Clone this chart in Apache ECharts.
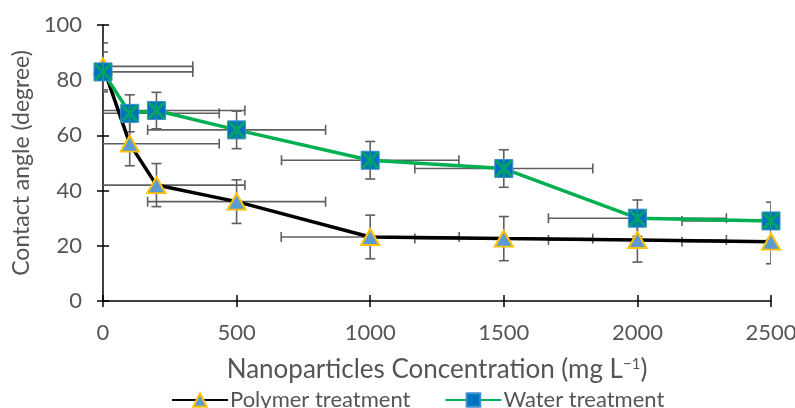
<!DOCTYPE html>
<html><head><meta charset="utf-8">
<script src="https://cdn.jsdelivr.net/npm/echarts@6/dist/echarts.min.js"></script>
<style>html,body{margin:0;padding:0;background:#fff}#c{width:795px;height:408px}</style>
</head><body><div id="c"></div>
<script>
// ---- data ----
const concentrations = [0, 100, 200, 500, 1000, 1500, 2000, 2500];
const polymerAngle = [85, 57, 42, 36, 23.2, 22.6, 22.1, 21.5];
const polymerYErr  = [8.5, 8, 7.8, 7.9, 7.9, 8, 8, 8];
const polymerXErr  = [336, 335, 331, 333, 333, 333, 333, 333];
const waterAngle   = [83, 68, 69, 62, 51, 48, 30, 29];
const waterYErr    = [7.2, 6.7, 6.6, 6.8, 6.8, 6.8, 6.6, 6.8];
const waterXErr    = [336, 335, 331, 333, 332, 333, 333, 333];
const xTicks = [0, 500, 1000, 1500, 2000, 2500];
const yTicks = [0, 20, 40, 60, 80, 100];
const seriesNames = ['Polymer treatment', 'Water treatment'];

const FONT = 'Lato';
const GREY = '#555555';

function pairs(xs, ys) { return xs.map((x, i) => [x, ys[i]]); }
function errData(xs, ys, ex, ey) { return xs.map((x, i) => [x, ys[i], ex[i], ey[i]]); }

function errRender(params, api) {
  const x = api.value(0), y = api.value(1), ex = api.value(2), ey = api.value(3);
  const cs = params.coordSys;
  const L = cs.x, R = cs.x + cs.width, T = cs.y, B = cs.y + cs.height;
  const c = api.coord([x, y]);
  const xl = api.coord([x - ex, y])[0], xr = api.coord([x + ex, y])[0];
  const yt = api.coord([x, y + ey])[1], yb = api.coord([x, y - ey])[1];
  const cap = 5;
  const st = { stroke: '#5f5f5f', lineWidth: 1.6 };
  const ch = [];
  function seg(x1, y1, x2, y2) { ch.push({ type: 'line', shape: { x1, y1, x2, y2 }, style: st }); }
  seg(Math.max(xl, L), c[1], Math.min(xr, R), c[1]);
  if (xl >= L) seg(xl, c[1] - cap, xl, c[1] + cap);
  if (xr <= R) seg(xr, c[1] - cap, xr, c[1] + cap);
  seg(c[0], Math.max(yt, T), c[0], Math.min(yb, B));
  if (yt >= T) seg(Math.max(c[0] - cap, L), yt, Math.min(c[0] + cap, R), yt);
  if (yb <= B) seg(Math.max(c[0] - cap, L), yb, Math.min(c[0] + cap, R), yb);
  return { type: 'group', children: ch };
}

const starPath = 'path://M0,0 L2,0 L16,14 L16,16 L14,16 L0,2 Z M14,0 L16,0 L16,2 L2,16 L0,16 L0,14 Z M7.1,0 L8.9,0 L8.9,16 L7.1,16 Z';

const chart = echarts.init(document.getElementById('c'), null, { renderer: 'canvas' });
const axisCommon = {
  type: 'value',
  axisLine: { show: true, lineStyle: { color: '#000', width: 1.5 } },
  splitLine: { show: false }
};
const plain = v => String(v);
chart.setOption({
  animation: false,
  textStyle: { fontFamily: FONT },
  grid: { left: 103, right: 24, top: 25, bottom: 107, containLabel: false, outerBoundsMode: 'none' },
  legend: {
    data: seriesNames,
    top: 384, left: 166,
    itemWidth: 56, itemHeight: 17, itemGap: 34,
    textStyle: { fontFamily: FONT, fontSize: 22, color: GREY, padding: [0, 0, 0, -3] }
  },
  xAxis: [
    Object.assign({}, axisCommon, {
      position: 'bottom',
      min: xTicks[0], max: xTicks[xTicks.length - 1], interval: xTicks[1] - xTicks[0],
      axisTick: { show: true, inside: false, length: 6, lineStyle: { color: '#000', width: 1.5 } },
      axisLabel: { fontFamily: FONT, fontSize: 22, color: GREY, margin: 21, formatter: plain },
      name: 'Nanoparticles Concentration (mg L{s|−1})',
      nameLocation: 'middle', nameGap: 56,
      nameTextStyle: { fontFamily: FONT, fontSize: 26, color: GREY,
        rich: { s: { fontFamily: FONT, fontSize: 15, color: GREY, verticalAlign: 'top', padding: [0, 0, 9, 0] } } }
    }),
    Object.assign({}, axisCommon, {
      position: 'bottom',
      min: xTicks[0], max: xTicks[xTicks.length - 1], interval: xTicks[1] - xTicks[0],
      axisLine: { show: false },
      axisTick: { show: true, inside: true, length: 6, lineStyle: { color: '#000', width: 1.5 } },
      axisLabel: { show: false }
    })
  ],
  yAxis: [
    Object.assign({}, axisCommon, {
      position: 'left',
      min: yTicks[0], max: yTicks[yTicks.length - 1], interval: yTicks[1] - yTicks[0],
      axisTick: { show: true, inside: false, length: 6, lineStyle: { color: '#000', width: 1.5 } },
      axisLabel: { fontFamily: FONT, fontSize: 22, color: GREY, margin: 21, formatter: plain },
      name: 'Contact angle (degree)',
      nameLocation: 'middle', nameGap: 63,
      nameTextStyle: { fontFamily: FONT, fontSize: 23, color: GREY }
    }),
    Object.assign({}, axisCommon, {
      position: 'left',
      min: yTicks[0], max: yTicks[yTicks.length - 1], interval: yTicks[1] - yTicks[0],
      axisLine: { show: false },
      axisTick: { show: true, inside: true, length: 6, lineStyle: { color: '#000', width: 1.5 } },
      axisLabel: { show: false }
    })
  ],
  series: [
    {
      type: 'custom', name: 'polyErr', z: 1, silent: true, clip: true,
      renderItem: errRender,
      encode: { x: 0, y: 1 },
      data: errData(concentrations, polymerAngle, polymerXErr, polymerYErr)
    },
    {
      type: 'custom', name: 'waterErr', z: 1, silent: true, clip: true,
      renderItem: errRender,
      encode: { x: 0, y: 1 },
      data: errData(concentrations, waterAngle, waterXErr, waterYErr)
    },
    {
      type: 'line', name: seriesNames[0], z: 3,
      data: pairs(concentrations, polymerAngle),
      lineStyle: { color: '#000', width: 3.5 },
      symbol: 'triangle', symbolSize: [18, 16], showAllSymbol: true,
      itemStyle: { color: '#5B9BD5', borderColor: '#FFC000', borderWidth: 2 }
    },
    {
      type: 'line', name: seriesNames[1], z: 4,
      data: pairs(concentrations, waterAngle),
      lineStyle: { color: '#00B050', width: 3.5 },
      symbol: 'rect', symbolSize: 18, showAllSymbol: true,
      itemStyle: { color: '#0070C0', borderColor: '#3D8FD3', borderWidth: 1 }
    },
    {
      type: 'scatter', name: 'waterStar', z: 5, silent: true,
      data: pairs(concentrations, waterAngle),
      symbol: starPath, symbolSize: 17,
      itemStyle: { color: '#00B050' }
    }
  ]
});
</script>
</body></html>
